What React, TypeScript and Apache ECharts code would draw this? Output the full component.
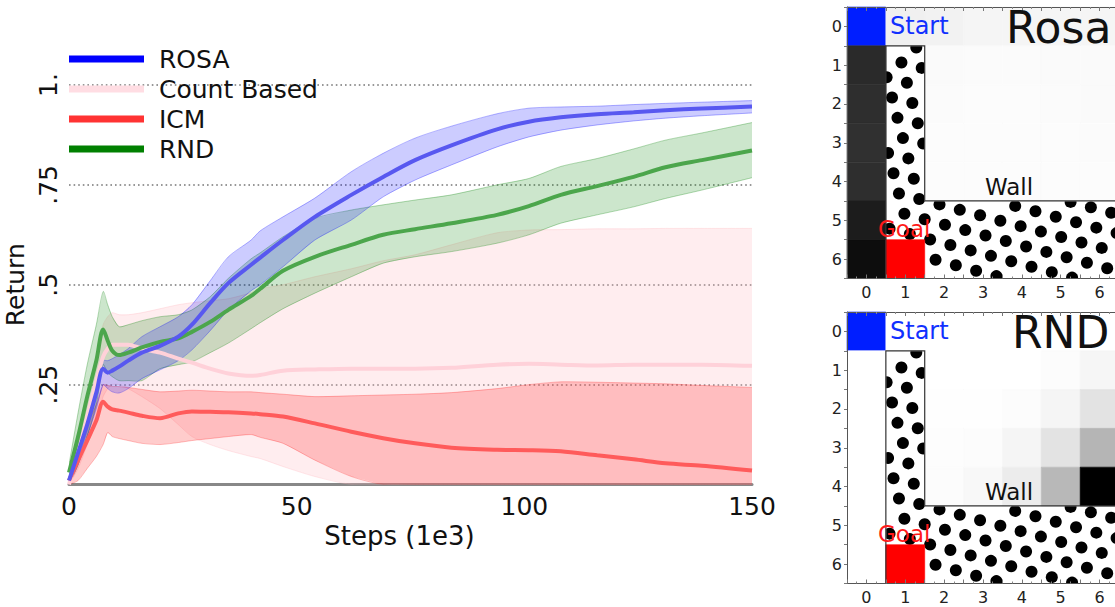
import React, { useEffect, useRef } from "react";
import * as echarts from "echarts";

// ---------- Learning curves (Steps in 1e3, Return) ----------
const steps = [0, 2, 4, 6, 7.5, 8.5, 9.5, 11, 13, 16, 20, 24, 27, 31, 35, 40, 42, 47, 54, 62, 69, 76, 84, 94, 101, 108, 116, 124, 131, 139, 150];

const rosaMean = [0.01, 0.08, 0.15, 0.23, 0.29, 0.28, 0.285, 0.295, 0.31, 0.33, 0.347, 0.37, 0.4, 0.454, 0.504, 0.55, 0.568, 0.612, 0.67, 0.725, 0.77, 0.812, 0.849, 0.889, 0.908, 0.919, 0.927, 0.932, 0.937, 0.941, 0.946];
const rosaUpper = [0.02, 0.1, 0.17, 0.25, 0.31, 0.31, 0.315, 0.325, 0.34, 0.37, 0.395, 0.42, 0.45, 0.51, 0.57, 0.612, 0.635, 0.67, 0.717, 0.783, 0.829, 0.867, 0.897, 0.928, 0.942, 0.945, 0.947, 0.951, 0.954, 0.957, 0.961];
const rosaLower = [0.0, 0.05, 0.12, 0.19, 0.25, 0.24, 0.232, 0.229, 0.24, 0.265, 0.287, 0.31, 0.337, 0.385, 0.437, 0.485, 0.5, 0.545, 0.612, 0.662, 0.72, 0.762, 0.8, 0.845, 0.87, 0.887, 0.9, 0.91, 0.917, 0.923, 0.93];

const countMean = [0.0, 0.08, 0.17, 0.26, 0.32, 0.34, 0.35, 0.35, 0.35, 0.34, 0.33, 0.315, 0.305, 0.29, 0.278, 0.272, 0.274, 0.285, 0.288, 0.29, 0.29, 0.29, 0.292, 0.3, 0.302, 0.3, 0.298, 0.3, 0.3, 0.3, 0.297];
const countUpper = [0.01, 0.12, 0.22, 0.32, 0.4, 0.42, 0.43, 0.425, 0.425, 0.43, 0.44, 0.45, 0.455, 0.46, 0.465, 0.48, 0.49, 0.5, 0.52, 0.54, 0.56, 0.575, 0.6, 0.63, 0.637, 0.638, 0.64, 0.64, 0.641, 0.641, 0.641];
const countLower = [0.0, 0.04, 0.1, 0.16, 0.22, 0.24, 0.25, 0.25, 0.24, 0.22, 0.19, 0.15, 0.12, 0.1, 0.085, 0.07, 0.065, 0.045, 0.02, 0, 0, 0, 0, 0, 0, 0, 0, 0, 0, 0, 0];

const icmMean = [0.01, 0.06, 0.11, 0.16, 0.207, 0.195, 0.188, 0.185, 0.18, 0.172, 0.166, 0.178, 0.183, 0.182, 0.181, 0.178, 0.176, 0.17, 0.153, 0.132, 0.116, 0.103, 0.092, 0.087, 0.086, 0.083, 0.073, 0.063, 0.053, 0.047, 0.035];
const icmUpper = [0.02, 0.09, 0.15, 0.2, 0.25, 0.248, 0.246, 0.245, 0.243, 0.238, 0.232, 0.234, 0.236, 0.234, 0.232, 0.232, 0.23, 0.226, 0.22, 0.222, 0.224, 0.226, 0.23, 0.24, 0.25, 0.257, 0.256, 0.254, 0.252, 0.248, 0.243];
const icmLower = [0.0, 0.01, 0.04, 0.07, 0.1, 0.13, 0.12, 0.115, 0.11, 0.103, 0.1, 0.105, 0.11, 0.115, 0.12, 0.125, 0.118, 0.103, 0.061, 0.02, 0, 0, 0, 0, 0, 0, 0, 0, 0, 0, 0];

const rndMean = [0.03, 0.12, 0.22, 0.31, 0.388, 0.36, 0.335, 0.324, 0.33, 0.343, 0.357, 0.366, 0.382, 0.407, 0.437, 0.472, 0.49, 0.535, 0.57, 0.6, 0.625, 0.639, 0.654, 0.675, 0.697, 0.725, 0.747, 0.77, 0.794, 0.812, 0.836];
const rndUpper = [0.05, 0.18, 0.3, 0.4, 0.483, 0.45, 0.42, 0.395, 0.4, 0.41, 0.42, 0.425, 0.437, 0.47, 0.516, 0.565, 0.58, 0.62, 0.666, 0.687, 0.7, 0.712, 0.725, 0.75, 0.766, 0.796, 0.816, 0.84, 0.862, 0.88, 0.906];
const rndLower = [0.0, 0.05, 0.12, 0.2, 0.3, 0.28, 0.27, 0.26, 0.26, 0.26, 0.29, 0.3, 0.307, 0.33, 0.354, 0.39, 0.405, 0.44, 0.479, 0.52, 0.554, 0.57, 0.583, 0.604, 0.625, 0.654, 0.675, 0.695, 0.716, 0.737, 0.768];

const returnTicks = [0, 0.25, 0.5, 0.75, 1];

// ---------- Grid world visitation maps ----------
// S start, G goal, # dotted region, . floor cell with visitation value
const mazeLayout = [
  "S......",
  ".#.....",
  ".#.....",
  ".#.....",
  ".#.....",
  ".######",
  ".G#####",
];
const rosaVisits = [
  [0, 0.06, 0.05, 0.04, 0.04, 0.04, 0.04],
  [0.835, 0, 0.02, 0.015, 0.015, 0.02, 0.02],
  [0.82, 0, 0.015, 0.01, 0.01, 0.015, 0.02],
  [0.81, 0, 0.01, 0.01, 0.01, 0.01, 0.015],
  [0.82, 0, 0.01, 0.01, 0.01, 0.01, 0.01],
  [0.89, 0, 0, 0, 0, 0, 0],
  [0.95, 0, 0, 0, 0, 0, 0],
];
const rndVisits = [
  [0, 0, 0, 0, 0, 0, 0],
  [0, 0, 0, 0, 0, 0.01, 0.035],
  [0, 0, 0.005, 0.005, 0.012, 0.04, 0.11],
  [0, 0, 0.006, 0.012, 0.04, 0.11, 0.29],
  [0, 0, 0.01, 0.027, 0.075, 0.28, 1.0],
  [0, 0, 0, 0, 0, 0, 0],
  [0, 0, 0, 0, 0, 0, 0],
];
const regionOutline = [[0.5, 6.5], [0.5, 0.5], [1.5, 0.5], [1.5, 4.5], [6.5, 4.5]];

const FONT = "DejaVu Sans";
const DOT_R = 6;
const LAT_U = [20.28, 5.44];
const LAT_V = [5.44, 20.28];

function cellsOf(visits: number[][], wanted: (k: string) => boolean) {
  const out: any[] = [];
  mazeLayout.forEach((row, r) => {
    row.split("").forEach((ch, c) => {
      if (wanted(ch)) out.push([c, r, visits[r][c], ch === "S" ? 1 : ch === "G" ? 2 : ch === "#" ? 3 : 0]);
    });
  });
  return out;
}

function cellRect(api: any, c: number, r: number) {
  const a = api.coord([c - 0.5, r - 0.5]);
  const b = api.coord([c + 0.5, r + 0.5]);
  return {
    x: Math.min(a[0], b[0]),
    y: Math.min(a[1], b[1]),
    width: Math.abs(b[0] - a[0]),
    height: Math.abs(b[1] - a[1]),
  };
}

function mazeSeries(visits: number[][], axisIdx: number) {
  const common = { type: "custom", xAxisIndex: axisIdx, yAxisIndex: axisIdx, silent: true };
  return [
    {
      ...common,
      name: "wallBg" + axisIdx,
      z: 2,
      data: cellsOf(visits, (k) => k === "#"),
      renderItem: (params: any, api: any) => ({
        type: "rect",
        shape: cellRect(api, api.value(0), api.value(1)),
        style: { fill: "#ffffff", stroke: "#ffffff", lineWidth: 0.6 },
      }),
    },
    {
      ...common,
      name: "wallDots" + axisIdx,
      z: 3,
      clip: true,
      data: cellsOf(visits, (k) => k === "#"),
      renderItem: (params: any, api: any) => {
        const rc = cellRect(api, api.value(0), api.value(1));
        const o = api.coord([-0.5, -0.5]);
        const children: any[] = [];
        for (let i = -12; i < 26; i++) {
          for (let j = -12; j < 26; j++) {
            const px = o[0] + 3 + i * LAT_U[0] + j * LAT_V[0];
            const py = o[1] + 4 + i * LAT_U[1] + j * LAT_V[1];
            if (px >= rc.x && px < rc.x + rc.width && py >= rc.y && py < rc.y + rc.height) {
              children.push({ type: "circle", shape: { cx: px, cy: py, r: DOT_R }, style: { fill: "#000" } });
            }
          }
        }
        return { type: "group", children };
      },
    },
    {
      ...common,
      name: "cells" + axisIdx,
      z: 4,
      data: cellsOf(visits, (k) => k !== "#"),
      renderItem: (params: any, api: any) => {
        const kind = api.value(3);
        let fill: string;
        if (kind === 1) fill = "#001eff";
        else if (kind === 2) fill = "#ff0000";
        else {
          const g = Math.round(255 * (1 - api.value(2)));
          fill = `rgb(${g},${g},${g})`;
        }
        return {
          type: "rect",
          shape: cellRect(api, api.value(0), api.value(1)),
          style: { fill, stroke: fill, lineWidth: 0.6 },
        };
      },
    },
    {
      ...common,
      name: "outline" + axisIdx,
      z: 5,
      data: [[0, 0]],
      renderItem: (params: any, api: any) => ({
        type: "polyline",
        shape: { points: regionOutline.map((p) => api.coord(p)) },
        style: { stroke: "#333", lineWidth: 1.2, fill: "none" },
      }),
    },
  ];
}

function bandSeries(name: string, lower: number[], upper: number[], fill: string, edge: string) {
  return {
    type: "custom",
    name: name + " band",
    xAxisIndex: 0,
    yAxisIndex: 0,
    clip: true,
    silent: true,
    z: 1,
    encode: { x: 0, y: [1, 2] },
    data: steps.map((s, i) => [s, lower[i], upper[i]]),
    renderItem: (params: any, api: any) => {
      if (params.dataIndex !== 0) return null;
      const up = steps.map((s, i) => api.coord([s, upper[i]]));
      const lo = steps.map((s, i) => api.coord([s, lower[i]])).reverse();
      return {
        type: "group",
        children: [
          { type: "polygon", shape: { points: up.concat(lo) }, style: { fill, stroke: "none" } },
          { type: "polyline", shape: { points: up, smooth: 0.25 }, style: { stroke: edge, lineWidth: 1, fill: "none" } },
          { type: "polyline", shape: { points: lo, smooth: 0.25 }, style: { stroke: edge, lineWidth: 1, fill: "none" } },
        ],
      };
    },
  };
}

function meanSeries(name: string, mean: number[], color: string) {
  return {
    type: "line",
    name,
    xAxisIndex: 0,
    yAxisIndex: 0,
    z: 3,
    symbol: "none",
    showSymbol: false,
    smooth: 0.3,
    data: steps.map((s, i) => [s, mean[i]]),
    lineStyle: { width: 4, color },
    itemStyle: { color },
  };
}

const labelInt = (v: number) => (Math.abs(v - Math.round(v)) < 1e-6 ? String(Math.round(v)) : "");

function mazeAxesX(grid: number) {
  const base = {
    type: "value",
    gridIndex: grid,
    min: -0.5,
    max: 6.5,
    interval: 0.5,
    z: 10,
    splitLine: { show: false },
    axisLine: { show: true, onZero: false, lineStyle: { color: "#555", width: 1 } },
    axisTick: { show: true, inside: true, length: 4, lineStyle: { color: "#777" } },
    minorTick: { show: true, splitNumber: 2, length: 2, lineStyle: { color: "#888" } },
  };
  return [
    {
      ...base,
      position: "bottom",
      axisLabel: { show: true, fontSize: 16, color: "#222", fontFamily: FONT, margin: 6, formatter: labelInt },
    },
    { ...base, position: "top", axisLabel: { show: false } },
  ];
}

function mazeAxesY(grid: number) {
  const base = {
    type: "value",
    gridIndex: grid,
    min: -0.5,
    max: 6.5,
    interval: 0.5,
    inverse: true,
    z: 10,
    splitLine: { show: false },
    axisLine: { show: true, onZero: false, lineStyle: { color: "#555", width: 1 } },
    axisTick: { show: true, inside: false, length: 3, lineStyle: { color: "#777" } },
    minorTick: { show: false },
  };
  return [
    {
      ...base,
      position: "left",
      axisLabel: { show: true, fontSize: 16, color: "#222", fontFamily: FONT, margin: 5, formatter: labelInt },
    },
    { ...base, position: "right", axisLabel: { show: false } },
  ];
}

function panelTexts(dy: number, title: string) {
  return [
    { type: "text", x: 890, y: 26 + dy, style: { text: "Start", fill: "#1030ff", fontSize: 24, fontFamily: FONT, verticalAlign: "middle" }, z: 20 },
    { type: "text", x: title === "Rosa" ? 1006 : 1012, y: 27 + dy, style: { text: title, fill: "#111", fontSize: 44, fontFamily: FONT, verticalAlign: "middle" }, z: 20 },
    { type: "text", x: 985, y: 187 + dy, style: { text: "Wall", fill: "#111", fontSize: 23, fontFamily: FONT, verticalAlign: "middle" }, z: 20 },
    { type: "text", x: 878, y: 229 + dy, style: { text: "Goal", fill: "#ff1a1a", fontSize: 23, fontFamily: FONT, verticalAlign: "middle" }, z: 20 },
  ];
}

export default function App() {
  const ref = useRef<HTMLDivElement>(null);
  useEffect(() => {
    if (!ref.current) return;
    const chart = echarts.init(ref.current, undefined, { renderer: "svg" });
    const option: any = {
      animation: false,
      backgroundColor: "#ffffff",
      textStyle: { fontFamily: FONT },
      legend: {
        orient: "vertical",
        left: 64,
        top: 39,
        icon: "rect",
        itemWidth: 75,
        itemHeight: 7,
        itemGap: 0,
        selectedMode: false,
        textStyle: { fontSize: 25, color: "#111", fontFamily: FONT, lineHeight: 30, padding: [0, 0, 0, 10] },
        data: [
          { name: "ROSA", itemStyle: { color: "#0000ff" } },
          { name: "Count Based", itemStyle: { color: "#ffdde3" } },
          { name: "ICM", itemStyle: { color: "#ff3333" } },
          { name: "RND", itemStyle: { color: "#008000" } },
        ],
      },
      grid: [
        { left: 69, top: 85, width: 683, height: 399.5, outerBoundsMode: "none", containLabel: false },
        { left: 847, top: 7, width: 272, height: 271.5, outerBoundsMode: "none", containLabel: false },
        { left: 847, top: 312, width: 272, height: 271.5, outerBoundsMode: "none", containLabel: false },
      ],
      xAxis: [
        {
          type: "value",
          gridIndex: 0,
          min: 0,
          max: 150,
          interval: 50,
          axisLine: { show: true, onZero: false, lineStyle: { color: "#888", width: 3 } },
          axisTick: { show: false },
          splitLine: { show: false },
          axisLabel: { fontSize: 25, color: "#111", fontFamily: FONT, margin: 9 },
          name: "Steps (1e3)",
          nameLocation: "middle",
          nameGap: 33,
          nameTextStyle: { fontSize: 26, color: "#111", fontFamily: FONT, verticalAlign: "top", padding: [0, 22, 0, 0] },
        },
        ...mazeAxesX(1),
        ...mazeAxesX(2),
      ],
      yAxis: [
        {
          type: "value",
          gridIndex: 0,
          min: 0,
          max: 1,
          interval: 0.25,
          axisLine: { show: false },
          axisTick: { show: false },
          splitLine: { show: true, lineStyle: { color: "#777", width: 1.6, type: [1.6, 3] } },
          axisLabel: {
            rotate: 90,
            fontSize: 25,
            color: "#111",
            fontFamily: FONT,
            margin: 8,
            formatter: (v: number) => {
              if (!returnTicks.includes(v) || v === 0) return "";
              if (v === 1) return "1.";
              return String(v).replace(/^0/, "");
            },
          },
          name: "Return",
          nameLocation: "middle",
          nameRotate: 90,
          nameGap: 23,
          nameTextStyle: { fontSize: 25, color: "#111", fontFamily: FONT },
        },
        ...mazeAxesY(1),
        ...mazeAxesY(2),
      ],
      series: [
        bandSeries("Count Based", countLower, countUpper, "rgba(255,182,193,0.25)", "rgba(255,182,193,0.35)"),
        bandSeries("ICM", icmLower, icmUpper, "rgba(255,0,0,0.2)", "rgba(255,0,0,0.25)"),
        bandSeries("RND", rndLower, rndUpper, "rgba(0,128,0,0.2)", "rgba(0,128,0,0.3)"),
        bandSeries("ROSA", rosaLower, rosaUpper, "rgba(0,0,255,0.2)", "rgba(0,0,255,0.3)"),
        meanSeries("Count Based", countMean, "#ffd1d9"),
        meanSeries("ICM", icmMean, "#ff5b5b"),
        meanSeries("RND", rndMean, "#4ca64c"),
        meanSeries("ROSA", rosaMean, "#5858f0"),
        ...mazeSeries(rosaVisits, 1),
        ...mazeSeries(rndVisits, 3),
      ],
      graphic: [...panelTexts(0, "Rosa"), ...panelTexts(305, "RND")],
    };
    chart.setOption(option);
    return () => chart.dispose();
  }, []);
  return <div ref={ref} style={{ position: "absolute", left: 0, top: 0, width: 1115, height: 607 }} />;
}
